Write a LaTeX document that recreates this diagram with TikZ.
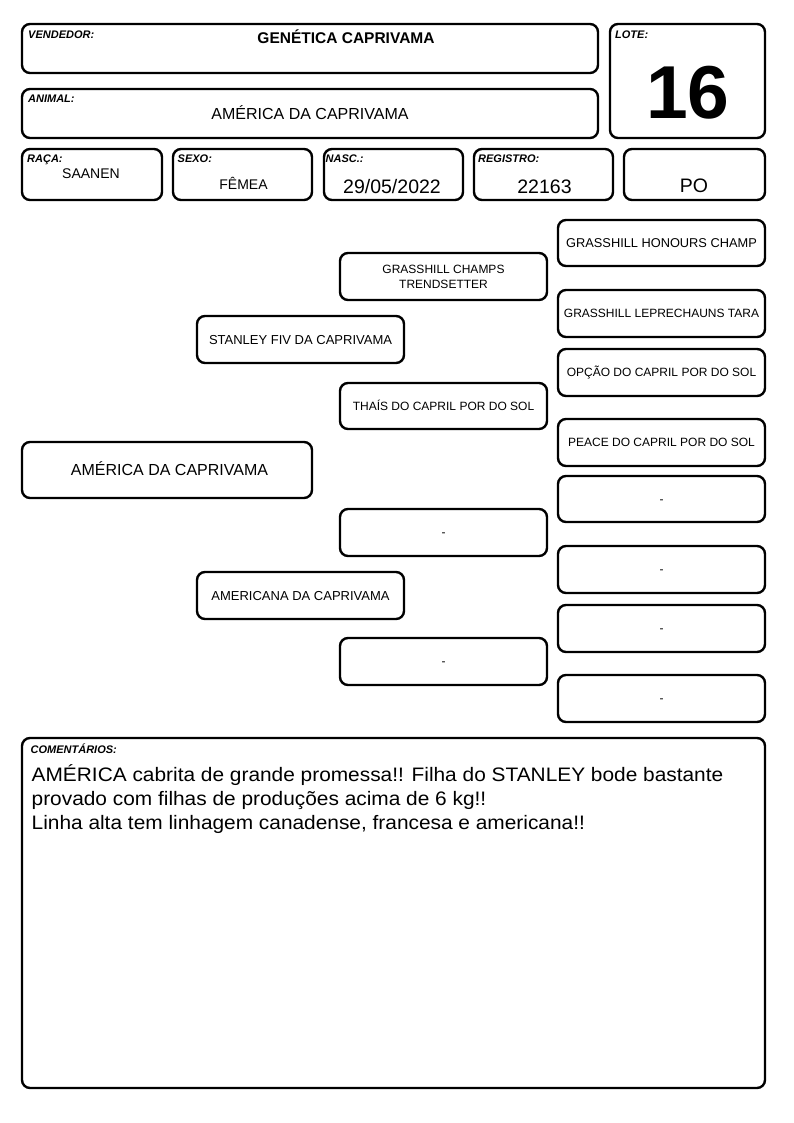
\documentclass[tikz,border=0pt]{standalone}
\usepackage{fontspec}
\setmainfont{Liberation Sans}
\newfontfamily\widesans[FakeStretch=1.07]{Liberation Sans}
\begin{document}
\begin{tikzpicture}[x=1pt,y=-1pt,
  box/.style={draw, line width=2.4pt, rounded corners=8pt, inner sep=0pt, align=center},
  lab/.style={anchor=base west, inner sep=0pt, font=\fontsize{11}{12}\selectfont\bfseries\itshape},
  val/.style={anchor=base, inner sep=0pt},
  pedbase/.style={box, minimum width=207pt, minimum height=47pt, font=\fontsize{12}{15}\selectfont},
  ped/.style={pedbase, text height=8.6pt, text depth=0pt},
  comtext/.style={anchor=base west, inner sep=0pt, font=\widesans\fontsize{19.5}{24}\selectfont},
  ]
\useasboundingbox (0,0) rectangle (794,1123);

% header boxes
\node[box, minimum width=576pt, minimum height=49pt] (vend) at (310,48.5) {};
\node[box, minimum width=576pt, minimum height=49pt] (anim) at (310,113.5) {};
\node[box, minimum width=155pt, minimum height=114pt] (lote) at (687.5,81) {};
\node[box, minimum width=140pt, minimum height=51pt] (raca) at (92,174.5) {};
\node[box, minimum width=139pt, minimum height=51pt] (sexo) at (242.5,174.5) {};
\node[box, minimum width=139pt, minimum height=51pt] (nasc) at (393.5,174.5) {};
\node[box, minimum width=139pt, minimum height=51pt] (reg) at (543.5,174.5) {};
\node[box, minimum width=141pt, minimum height=51pt] (po) at (694.5,174.5) {};

% labels
\node[lab] (lvend) at (28,39) {VENDEDOR:};
\node[lab] (lanim) at (28,102.3) {ANIMAL:};
\node[lab] (llote) at (615,39) {LOTE:};
\node[lab] (lraca) at (27,162.5) {RAÇA:};
\node[lab] (lsexo) at (177.5,162.5) {SEXO:};
\node[lab] (lnasc) at (325.5,162.5) {NASC.:};
\node[lab] (lreg) at (478,162.5) {REGISTRO:};

% values
\node[val, font=\fontsize{15.5}{18}\selectfont\bfseries] (tvend) at (346,43.3) {GENÉTICA CAPRIVAMA};
\node[val, font=\fontsize{16}{19}\selectfont] (tanim) at (310,119.3) {AMÉRICA DA CAPRIVAMA};
\node[val, font=\fontsize{75}{80}\selectfont\bfseries] (tlote) at (688,119) {16};
\node[val, font=\fontsize{14}{16}\selectfont] (traca) at (91,178.3) {SAANEN};
\node[val, font=\fontsize{14}{16}\selectfont] (tsexo) at (243.5,189.3) {FÊMEA};
\node[val, font=\fontsize{19.5}{22}\selectfont] (tnasc) at (392,193.2) {29/05/2022};
\node[val, font=\fontsize{19.5}{22}\selectfont] (treg) at (544.5,193.2) {22163};
\node[val, font=\fontsize{19.5}{22}\selectfont] (tpo) at (694,193) {PO};

% pedigree
\node[box, minimum width=290pt, minimum height=56pt] (main) at (167,470) {};
\node[val, font=\fontsize{16}{19}\selectfont] (tmain) at (169.5,475.8) {AMÉRICA DA CAPRIVAMA};

\node[ped, font=\fontsize{13}{15}\selectfont, text height=9.3pt] (sire) at (300.5,339.5) {STANLEY FIV DA CAPRIVAMA};
\node[ped, font=\fontsize{13}{15}\selectfont, text height=9.3pt] (dam) at (300.5,595.5) {AMERICANA DA CAPRIVAMA};

\node[pedbase] (ss) at (443.5,276.5) {GRASSHILL CHAMPS\\TRENDSETTER};
\node[ped, minimum height=46pt] (sd) at (443.5,406) {THAÍS DO CAPRIL POR DO SOL};
\node[ped] (ds) at (443.5,532.5) {-};
\node[ped] (dd) at (443.5,661.5) {-};

\node[ped, minimum height=46pt, font=\fontsize{12.8}{15}\selectfont, text height=9.2pt] (sss) at (661.5,243) {GRASSHILL HONOURS CHAMP};
\node[ped] (ssd) at (661.5,313.5) {GRASSHILL LEPRECHAUNS TARA};
\node[ped] (sds) at (661.5,372.5) {OPÇÃO DO CAPRIL POR DO SOL};
\node[ped] (sdd) at (661.5,442.5) {PEACE DO CAPRIL POR DO SOL};
\node[ped, minimum height=46pt] (dss) at (661.5,499) {-};
\node[ped] (dsd) at (661.5,569.5) {-};
\node[ped] (dds) at (661.5,628.5) {-};
\node[ped] (ddd) at (661.5,698.5) {-};

% comments
\node[box, minimum width=743pt, minimum height=350pt] (com) at (393.5,913) {};
\node[lab] (lcom) at (30.5,753.5) {COMENTÁRIOS:};
\node[comtext] (c1) at (31.5,781) {AMÉRICA cabrita de grande promessa!! Filha do STANLEY bode bastante};
\node[comtext] (c2) at (31.5,805) {provado com filhas de produções acima de 6 kg!!};
\node[comtext] (c3) at (31.5,829) {Linha alta tem linhagem canadense, francesa e americana!!};
\end{tikzpicture}
\end{document}
